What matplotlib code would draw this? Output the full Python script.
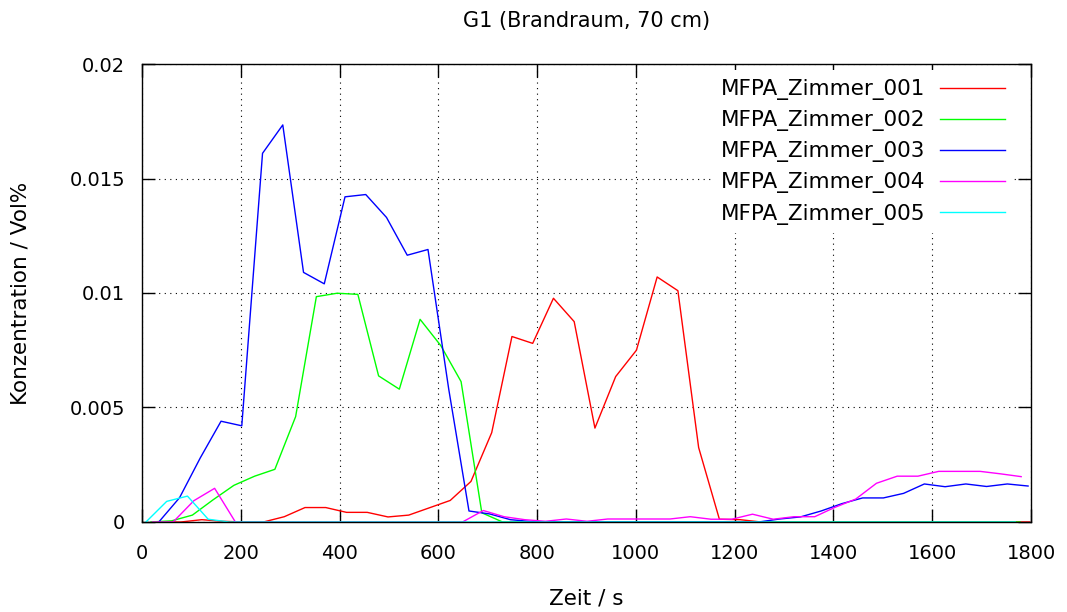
import numpy as np
import matplotlib
matplotlib.use("Agg")
import matplotlib.pyplot as plt

# Sample times / s (each sensor has its own sampling offset)
t_001 = [37, 79, 121, 163, 205, 246, 288, 330, 372, 414, 456, 498, 540, 582, 624, 666,
         708, 749, 791, 833, 875, 917, 959, 1001, 1043, 1085, 1127, 1169, 1211, 1253,
         1295, 1337, 1379, 1421, 1462, 1504, 1546, 1588, 1630, 1672, 1714, 1756, 1797]
c_001 = [0, 0, 0.0001, 0.00003, 0, 0, 0.00023, 0.00063, 0.00063, 0.00042, 0.00042, 0.00022,
         0.0003, 0.00062, 0.00094, 0.00177, 0.0039, 0.0081, 0.0078, 0.00977, 0.00875, 0.0041,
         0.00635, 0.0075, 0.0107, 0.0101, 0.00325, 0.00012, 0.0001, 0,
         0, 0, 0, 0, 0, 0, 0, 0, 0, 0, 0, 0, 0]

t_002 = [18, 60, 102, 144, 186, 228, 269, 311, 353, 395, 437, 479, 521, 563, 605, 646,
         688, 730, 772, 814, 856, 898, 940, 981, 1023, 1065, 1107, 1149, 1191, 1233,
         1275, 1317, 1359, 1400, 1442, 1484, 1526, 1568, 1610, 1652, 1694, 1736, 1778]
c_002 = [0, 0.00005, 0.0003, 0.00097, 0.0016, 0.002, 0.0023, 0.0046, 0.00984, 0.00999,
         0.00994, 0.00638, 0.0058, 0.00885, 0.0077, 0.00613, 0.0004, 0,
         0, 0, 0, 0, 0, 0, 0, 0, 0, 0, 0, 0, 0, 0, 0, 0, 0, 0, 0, 0, 0, 0, 0, 0, 0]

t_003 = [34, 76, 118, 160, 202, 244, 285, 327, 369, 411, 453, 495, 537, 579, 621, 662,
         704, 746, 788, 830, 872, 914, 956, 998, 1040, 1082, 1124, 1166, 1207, 1249,
         1291, 1333, 1375, 1417, 1459, 1501, 1542, 1584, 1626, 1668, 1710, 1752, 1794]
c_003 = [0, 0.00106, 0.0028, 0.0044, 0.0042, 0.0161, 0.01734, 0.0109, 0.0104, 0.0142,
         0.0143, 0.0133, 0.01165, 0.0119, 0.0058, 0.00048, 0.00035, 0.0001, 0.00002, 0,
         0, 0, 0, 0, 0, 0, 0, 0, 0, 0,
         0.00013, 0.00022, 0.00048, 0.0008, 0.00105, 0.00105, 0.00125, 0.00166, 0.00154,
         0.00166, 0.00155, 0.00166, 0.00157]

t_004 = [21, 63, 105, 147, 189, 231, 272, 314, 356, 398, 440, 482, 524, 566, 608, 649,
         691, 733, 775, 817, 859, 901, 943, 985, 1027, 1069, 1110, 1152, 1194, 1236,
         1278, 1320, 1362, 1403, 1445, 1487, 1529, 1571, 1613, 1655, 1697, 1739, 1780]
c_004 = [0, 0, 0.00093, 0.00147, 0, 0, 0, 0, 0, 0, 0, 0, 0, 0, 0, 0,
         0.0005, 0.00023, 0.0001, 0.00003, 0.00013, 0.00003, 0.00013, 0.00013, 0.00013,
         0.00013, 0.00023, 0.00012, 0.00012, 0.00034, 0.00012, 0.00023, 0.00023, 0.00064,
         0.001, 0.00169, 0.002, 0.002, 0.00221, 0.00221, 0.00221, 0.0021, 0.00198]

t_005 = [8, 50, 92, 134, 176, 218, 259, 301, 343, 385, 427, 469, 511, 553, 595, 636,
         678, 720, 762, 804, 846, 888, 930, 972, 1014, 1056, 1097, 1139, 1181, 1223,
         1265, 1307, 1349, 1391, 1432, 1474, 1516, 1558, 1600, 1642, 1684, 1726, 1768]
c_005 = [0, 0.0009, 0.00113, 0.00012, 0, 0, 0, 0, 0, 0, 0, 0, 0, 0, 0, 0,
         0, 0, 0, 0, 0, 0, 0, 0, 0, 0, 0, 0, 0, 0, 0, 0, 0, 0, 0, 0, 0, 0, 0, 0, 0, 0, 0]

labels = ["MFPA_Zimmer_001", "MFPA_Zimmer_002", "MFPA_Zimmer_003",
          "MFPA_Zimmer_004", "MFPA_Zimmer_005"]
colors = ["#ff0000", "#00ff00", "#0000ff", "#ff00ff", "#00ffff"]

plt.rcParams["font.family"] = "DejaVu Sans"
plt.rcParams["font.size"] = 14

fig = plt.figure(figsize=(10.67, 6.12), dpi=100)
ax = fig.add_axes([0.1331, 0.1471, 0.8332, 0.7483])

series = [(t_001, c_001), (t_002, c_002), (t_003, c_003), (t_004, c_004), (t_005, c_005)]
for (t, c), lab, col in zip(series, labels, colors):
    ax.plot(t, c, color=col, lw=1.0, label=lab)

ax.set_xlim(0, 1800)
ax.set_ylim(0, 0.02)
ax.set_xticks(np.arange(0, 1801, 200))
ax.set_yticks([0, 0.005, 0.01, 0.015, 0.02])
ax.set_yticklabels(["0", "0.005", "0.01", "0.015", "0.02"])
ax.tick_params(direction="in", length=9.5, width=1, top=True, right=True)
ax.tick_params(axis="x", pad=16)
ax.tick_params(axis="y", pad=12)
ax.grid(True, color="black", linestyle=(0, (1, 4)), linewidth=0.8)
for s in ax.spines.values():
    s.set_linewidth(1)

ax.set_title("G1 (Brandraum, 70 cm)", fontsize=15, pad=27)
ax.set_xlabel("Zeit / s", fontsize=15.5, labelpad=18)
ax.set_ylabel("Konzentration / Vol%", fontsize=15.5, labelpad=28)

leg = ax.legend(loc="upper right", bbox_to_anchor=(0.980, 0.986), markerfirst=False,
                frameon=True, fancybox=False, edgecolor="none", framealpha=1,
                fontsize=15.5, handlelength=3.0, handletextpad=0.7,
                labelspacing=0.47, borderaxespad=0)

fig.savefig("out.png", dpi=100)
